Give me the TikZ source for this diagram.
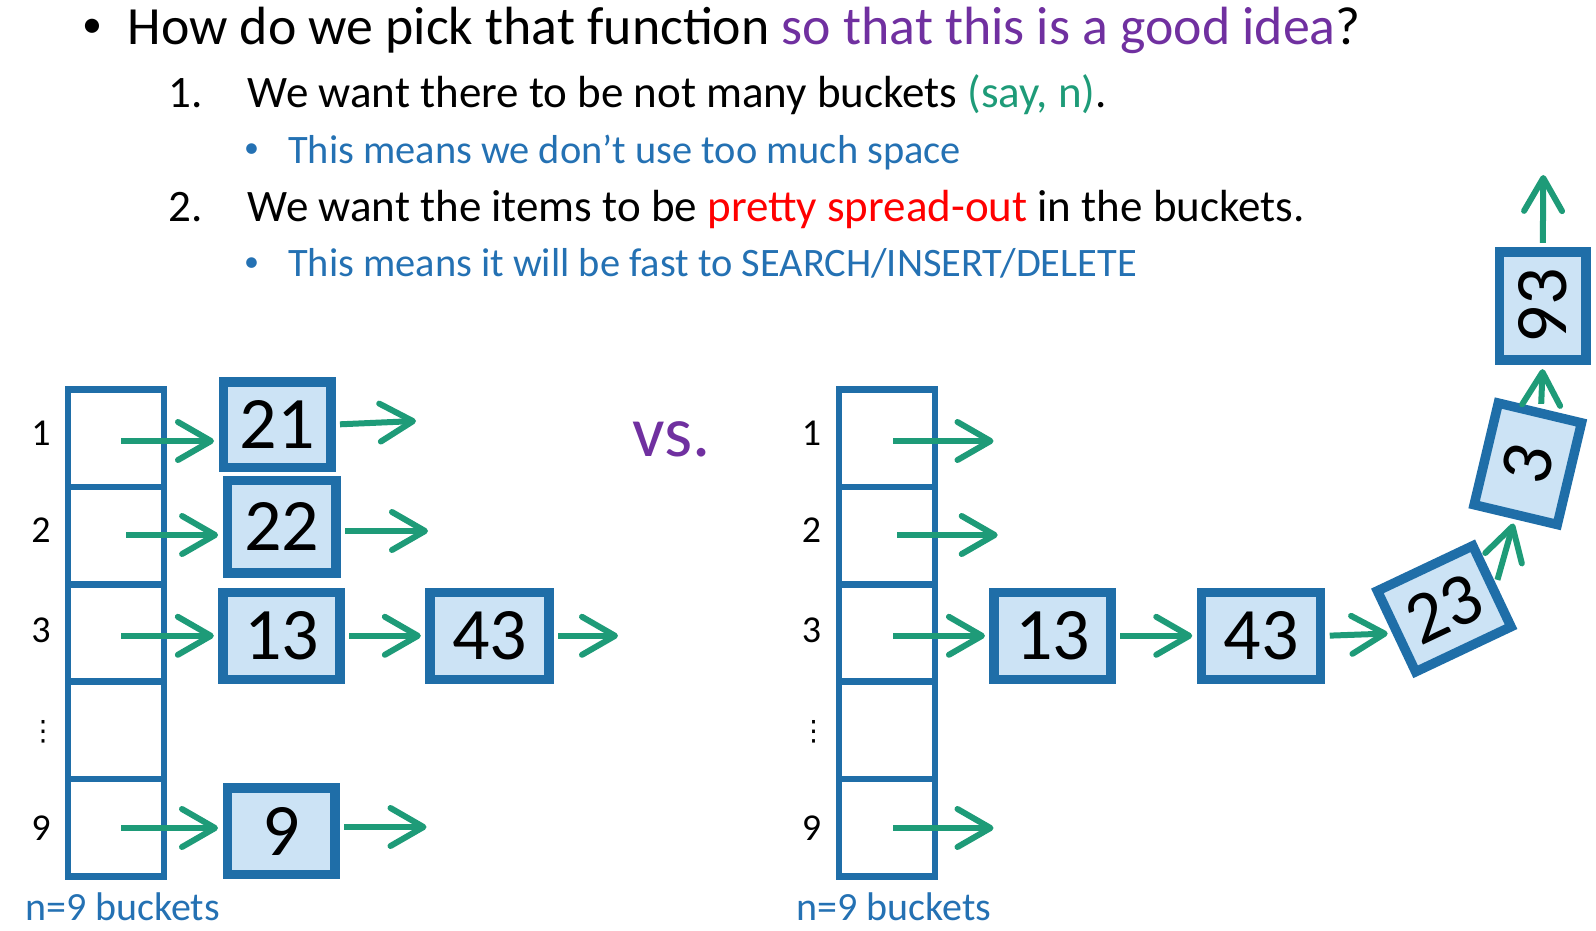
\documentclass[tikz,border=0pt]{standalone}
\usepackage{fontspec}
\setmainfont{Carlito}
\newfontfamily\dejavu{DejaVu Sans}
\usetikzlibrary{arrows.meta}
\definecolor{boxblue}{RGB}{31,110,168}
\definecolor{boxfill}{RGB}{204,227,245}
\definecolor{arrowgreen}{RGB}{30,155,120}
\definecolor{tblue}{RGB}{36,113,179}
\definecolor{tpurple}{RGB}{112,48,160}
\definecolor{tgreen}{RGB}{30,155,120}
\definecolor{tred}{RGB}{255,0,0}
\begin{document}
\begin{tikzpicture}[x=1pt,y=-1pt,
 cell/.style={draw=boxblue, line width=6.5pt, minimum width=96pt, minimum height=97.4pt, inner sep=0pt},
 item/.style={draw=boxblue, fill=boxfill, line width=9.5pt, inner sep=0pt, minimum height=87pt, font=\fontsize{74}{74}\selectfont},
 ptr/.style={draw=arrowgreen, line width=6pt, -{Straight Barb[length=33pt,width=38pt,round]}},
 hop/.style={ptr, shorten <=4.5pt, shorten >=4.5pt},
 into/.style={ptr, shorten >=4.5pt},
 outof/.style={ptr, shorten <=4.5pt},
 txt/.style={inner sep=0pt, anchor=base west},
 lbl/.style={inner sep=0pt, anchor=base, font=\fontsize{38}{38}\selectfont},
 vdots/.style={inner sep=0pt, font=\dejavu\fontsize{28}{28}\selectfont},
 bul/.style={inner sep=0pt, anchor=center}
]
\useasboundingbox (0,0) rectangle (1596,931);

% ---- text lines ----
\node[bul, font=\fontsize{40}{40}\selectfont] (tb) at (92,28) {•};
\node[txt, font=\fontsize{53.8}{53.8}\selectfont] (title) at (127.5,45) {How do we pick that function \textcolor{tpurple}{so that this is a good idea}?};
\node[txt, font=\fontsize{45}{45}\selectfont] (n1) at (168,108) {1.};
\node[txt, font=\fontsize{45}{45}\selectfont] (l1) at (247.5,108) {We want there to be not many buckets \textcolor{tgreen}{(say, n)}.};
\node[bul, text=tblue, font=\fontsize{30}{30}\selectfont] (b1) at (251.5,151) {•};
\node[txt, text=tblue, font=\fontsize{40.4}{40.4}\selectfont] (s1t) at (288,163.3) {This means we don’t use too much space};
\node[txt, font=\fontsize{45}{45}\selectfont] (n2) at (168,221.7) {2.};
\node[txt, font=\fontsize{45}{45}\selectfont] (l2) at (247.5,221.7) {We want the items to be \textcolor{tred}{pretty spread-out} in the buckets.};
\node[bul, text=tblue, font=\fontsize{30}{30}\selectfont] (b2) at (251.5,265) {•};
\node[txt, text=tblue, font=\fontsize{40.4}{40.4}\selectfont] (s2t) at (288,276.7) {This means it will be fast to SEARCH/INSERT/DELETE};

% ---- vs. ----
\node[txt, text=tpurple, font=\fontsize{72}{72}\selectfont] (vs) at (632,456.7) {vs.};

% ---- bucket columns ----
\node[cell] (c1) at (116,438.2) {};
\node[cell] (c2) at (116,535.6) {};
\node[cell] (c3) at (116,633) {};
\node[cell] (c4) at (116,730.4) {};
\node[cell] (c5) at (116,827.8) {};
\node[cell] (d1) at (886.8,438.2) {};
\node[cell] (d2) at (886.8,535.6) {};
\node[cell] (d3) at (886.8,633) {};
\node[cell] (d4) at (886.8,730.4) {};
\node[cell] (d5) at (886.8,827.8) {};

% ---- bucket labels ----
\node[lbl] (k1) at (41,445.6) {1};
\node[lbl] (k2) at (41,542) {2};
\node[lbl] (k3) at (41,642) {3};
\node[vdots] (kd) at (43,732) {⋮};
\node[lbl] (k9) at (41,840) {9};
\node[lbl] (q1) at (811.5,445.6) {1};
\node[lbl] (q2) at (811.5,542) {2};
\node[lbl] (q3) at (811.5,642) {3};
\node[vdots] (qd) at (813.5,732) {⋮};
\node[lbl] (q9) at (811.5,840) {9};

\node[txt, text=tblue, font=\fontsize{40}{40}\selectfont] (nb1) at (25,920) {n=9 buckets};
\node[txt, text=tblue, font=\fontsize{40}{40}\selectfont] (nb2) at (796,920) {n=9 buckets};

% ---- items ----
\node[item, minimum width=107.5pt, minimum height=85.5pt] (a21) at (277,424.5) {21};
\node[item, minimum width=108.5pt, minimum height=92.5pt] (a22) at (281.6,526.8) {22};
\node[item, minimum width=117pt] (a13) at (281.6,635.8) {13};
\node[item, minimum width=119pt] (a43) at (489.6,635.8) {43};
\node[item, minimum width=107.5pt, minimum height=86.5pt] (a9) at (281,831) {9};
\node[item, minimum width=117pt] (b13) at (1052.7,635.8) {13};
\node[item, minimum width=119pt] (b43) at (1261,635.8) {43};
\node[item, minimum width=105.5pt, minimum height=89.5pt, rotate=25.3] (b23) at (1444.2,608.8) {23};
\node[item, minimum width=104.5pt, minimum height=85.5pt, rotate=76.6] (b3) at (1527.8,463.8) {3};
\node[item, minimum width=107.8pt, minimum height=86.2pt, rotate=90] (b93) at (1542.8,306) {93};

% ---- free arrow ends ----
\coordinate (s1) at (121,441);
\coordinate (s2) at (126,535);
\coordinate (s3) at (121,635.8);
\coordinate (s9) at (121,828);
\coordinate (e1) at (416,421);
\coordinate (e2) at (428,531);
\coordinate (e3) at (618,635.8);
\coordinate (e9) at (426.5,827);
\coordinate (r1) at (893,441);
\coordinate (f1) at (993.5,441);
\coordinate (r2) at (897,535);
\coordinate (f2) at (997.7,535);
\coordinate (r3) at (893,635.8);
\coordinate (r9) at (893,828);
\coordinate (f9) at (993.5,828);
\coordinate (up) at (1543.3,175);

% ---- arrows left ----
\draw[into] (s1) -- (s1 -| a21.west);
\draw[outof] (a21.east) -- (e1);
\draw[into] (s2) -- (s2 -| a22.west);
\draw[outof] (e2 -| a22.east) -- (e2);
\draw[into] (s3) -- (a13.west);
\draw[hop] (a13.east) -- (a43.west);
\draw[outof] (a43.east) -- (e3);
\draw[into] (s9) -- (s9 -| a9.west);
\draw[outof] (e9 -| a9.east) -- (e9);

% ---- arrows right ----
\draw[ptr] (r1) -- (f1);
\draw[ptr] (r2) -- (f2);
\draw[into] (r3) -- (b13.west);
\draw[ptr] (r9) -- (f9);
\draw[hop] (b13.east) -- (b43.west);
\draw[hop] (b43.east) -- (b23.west);
\draw[hop] (b23.east) -- (b3.west);
\draw[hop] (b3.east) -- (b93.west);
\draw[outof] (b93.east) -- (up);
\end{tikzpicture}
\end{document}
